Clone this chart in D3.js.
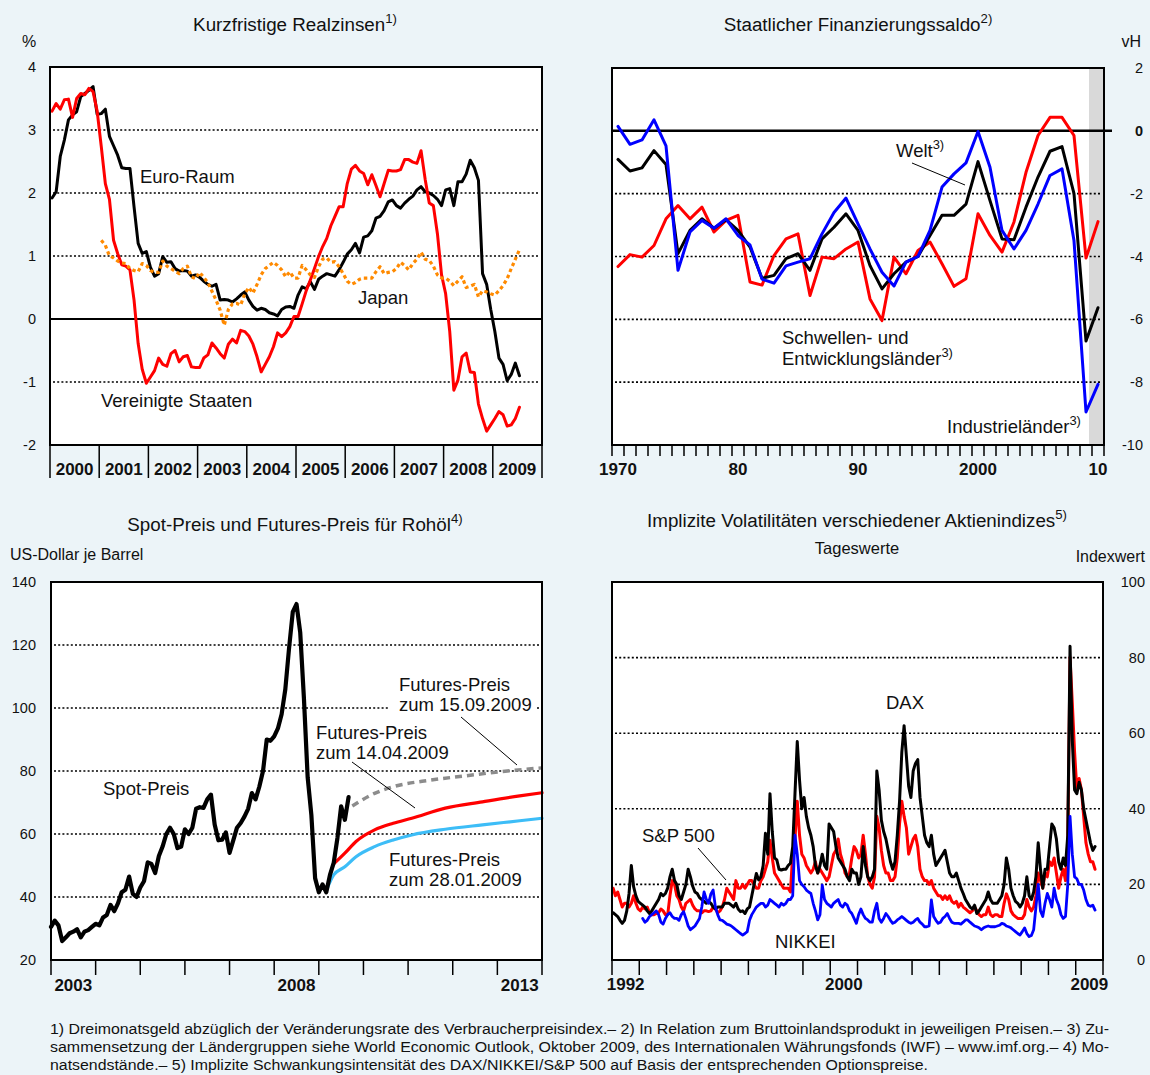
<!DOCTYPE html>
<html><head><meta charset="utf-8">
<script src="https://cdn.jsdelivr.net/npm/d3@7"></script>
<style>
body{margin:0;background:#ECF4F8;}
svg{display:block;font-family:"Liberation Sans",Arial,Helvetica,sans-serif;}
</style></head><body>
<svg id="c" width="1150" height="1075"></svg>
<script>
// ---------- Panel 1: Kurzfristige Realzinsen (monthly from Jan 2000) ----------
const p1Years = ["2000","2001","2002","2003","2004","2005","2006","2007","2008","2009"];
const p1Ticks = [4,3,2,1,0,-1,-2];
const euroRaum = [
 1.92,2.02,2.58,2.84,3.16,3.24,3.29,3.53,3.58,3.63,3.69,3.25,
 3.26,3.33,2.9,2.75,2.6,2.4,2.39,2.39,1.78,1.2,1.04,1.07,
 0.82,0.68,0.72,0.99,0.9,0.91,0.8,0.76,0.77,0.76,0.68,0.7,
 0.66,0.6,0.55,0.52,0.55,0.3,0.31,0.3,0.27,0.32,0.38,0.43,
 0.3,0.2,0.14,0.17,0.15,0.1,0.08,0.05,0.15,0.19,0.2,0.17,
 0.38,0.51,0.48,0.59,0.47,0.63,0.68,0.72,0.7,0.68,0.78,0.9,
 1.03,1.1,1.2,1.05,1.3,1.32,1.4,1.6,1.63,1.72,1.86,1.89,
 1.8,1.76,1.84,1.9,1.95,2.05,2.1,2.02,2.0,1.96,1.9,1.8,
 2.05,2.07,1.8,2.18,2.18,2.3,2.52,2.4,2.2,0.72,0.55,0.15,
 -0.2,-0.62,-0.72,-0.98,-0.88,-0.7,-0.9];
const vereinigteStaaten = [
 3.3,3.42,3.33,3.48,3.49,3.2,3.5,3.58,3.56,3.66,3.61,3.3,
 2.74,2.15,1.9,1.25,1.04,0.86,0.84,0.78,0.3,-0.39,-0.8,-1.02,
 -0.92,-0.82,-0.62,-0.72,-0.75,-0.55,-0.5,-0.68,-0.6,-0.58,-0.76,-0.77,
 -0.77,-0.62,-0.57,-0.38,-0.46,-0.55,-0.62,-0.4,-0.32,-0.38,-0.18,-0.2,
 -0.27,-0.4,-0.6,-0.84,-0.72,-0.6,-0.44,-0.22,-0.28,-0.22,-0.12,0.04,
 0.04,0.24,0.45,0.62,0.8,0.99,1.15,1.28,1.48,1.63,1.78,1.78,
 2.15,2.38,2.44,2.35,2.31,2.13,2.29,2.12,1.94,2.15,2.36,2.35,
 2.35,2.37,2.53,2.53,2.49,2.47,2.67,2.22,1.84,1.8,1.35,0.7,
 0.4,-0.2,-1.13,-0.97,-0.6,-0.54,-0.84,-0.85,-1.35,-1.58,-1.78,-1.68,
 -1.58,-1.47,-1.52,-1.7,-1.68,-1.58,-1.4];
const japanStartMonth = 12;
const japan = [
 1.25,1.17,1.0,0.97,0.92,0.89,0.88,0.8,0.77,0.75,0.88,0.85,
 0.77,0.74,0.74,0.92,0.84,0.8,0.76,0.72,0.8,0.84,0.67,0.64,
 0.74,0.66,0.58,0.44,0.3,0.14,-0.1,0.15,0.24,0.25,0.22,0.4,
 0.5,0.41,0.55,0.7,0.8,0.85,0.9,0.85,0.78,0.67,0.75,0.65,
 0.65,0.85,0.78,0.7,0.66,0.83,0.95,0.97,0.9,0.91,0.83,0.72,
 0.6,0.55,0.58,0.63,0.65,0.65,0.65,0.75,0.83,0.72,0.74,0.75,
 0.8,0.9,0.85,0.78,0.88,0.95,1.06,0.95,0.93,0.84,0.7,0.65,
 0.65,0.6,0.53,0.6,0.67,0.5,0.52,0.55,0.35,0.45,0.43,0.4,
 0.38,0.45,0.53,0.64,0.8,0.95,1.1];

// ---------- Panel 2: Staatlicher Finanzierungssaldo (annual 1970-2010) ----------
const p2Years = d3.range(1970, 2011);
const p2Labels = [[1970,"1970"],[1980,"80"],[1990,"90"],[2000,"2000"],[2010,"10"]];
const p2Ticks = [2,0,-2,-4,-6,-8,-10];
const industrielaender = [0.14,-0.43,-0.29,0.35,-0.48,-4.44,-3.22,-2.85,-3.1,-2.8,
 -3.33,-3.63,-4.72,-4.85,-4.3,-4.18,-4.07,-3.28,-2.6,-2.14,
 -2.96,-3.76,-4.5,-4.94,-4.18,-4.0,-3.17,-1.79,-1.37,-1.02,
 -0.02,-1.16,-3.17,-3.76,-3.17,-2.33,-1.42,-1.21,-3.5,-8.95,-8.07];
const welt = [-0.91,-1.28,-1.18,-0.63,-1.07,-3.91,-3.17,-2.8,-3.1,-2.83,
 -3.17,-3.7,-4.69,-4.6,-4.07,-3.91,-4.44,-3.44,-3.07,-2.64,
 -3.17,-4.29,-5.03,-4.55,-4.18,-4.0,-3.33,-2.69,-2.69,-2.33,
 -0.98,-2.22,-3.44,-3.47,-2.43,-1.47,-0.65,-0.5,-2.0,-6.69,-5.63];
const schwellenlaender = [-4.32,-3.94,-4.02,-3.65,-2.8,-2.38,-2.8,-2.43,-3.22,-2.85,
 -2.69,-4.81,-4.91,-3.97,-3.44,-3.28,-5.24,-4.02,-4.07,-3.76,
 -3.54,-5.35,-6.04,-4.02,-4.55,-3.81,-3.54,-4.23,-4.95,-4.71,
 -2.64,-3.33,-3.86,-2.9,-1.32,-0.15,0.43,0.43,-0.15,-4.05,-2.89];

// ---------- Panel 3: Spot- und Futures-Preis Rohöl (months since Jan 2003) ----------
const p3Labels = [[2003,"2003"],[2008,"2008"],[2013,"2013"]];
const p3Ticks = [140,120,100,80,60,40,20];
const spotPreis = [
 30.5,32.5,31,26,27.2,28.5,29,29.8,27.2,29,29.5,30.5,
 31.5,31,33.5,34.3,37.5,35.5,38,41.5,42.3,46.5,41,40,
 43,45,51,50.5,47.6,53,56,60,62,60,55.5,56,
 61.5,60,62,68,68.5,68.3,71,72.5,63,58,58.2,60.5,
 54,58,62,63.5,65.5,68,73,71,75,80,90,89.6,
 91,93.5,98,106,119,130.5,133,124,103,78,66,46,
 41.5,44,41.5,47,50.8,58.7,68.8,64.5,71.7];
const futJanMonths = [74,76,79,82,87,92,97,106,116,126,132];
const futJanValues = [42,47.0,49.6,52.8,56.0,58.1,59.7,61.5,62.9,64.2,65.0];
const futAprMonths = [76,79,82,87,92,97,106,116,126,132];
const futAprValues = [50.5,53.9,57.6,61.3,63.4,65.0,68.2,70.2,72.1,73.1];
const futSepMonths = [81,87,92,102,111,121,132];
const futSepValues = [68.9,72.9,75.0,77.1,78.4,79.8,81.0];

// ---------- Panel 4: Implizite Volatilitäten (monthly from Jan 1992) ----------
const p4Labels = [[1992,"1992"],[2000,"2000"],[2009,"2009"]];
const p4Ticks = [100,80,60,40,20,0];
const dax = [
 12.5,12,11.5,10.5,9.7,10.5,13,17.6,25,19.4,17,15.5,
 15,14.5,14,13,12.3,13,14,15,16,17.6,17,17.6,
 19,22,24,21,20,17,16,18,20,24,22,19.5,
 18,17.6,16.5,16,15.5,15,15.5,15,14,13.5,14,14,
 14,15,15,15,14.5,14,15,13.5,12.8,13,12.3,13.5,
 14,17,20,22.9,21.2,22,25,33.5,28,44,34,27,
 26.5,24,23.8,24,24,25,25.6,30,44,57.8,47.6,40,
 43,38,35,33,30,25,23,25,28,25,24,36,
 35,34,30,27,26,25,24,22,21,24,23,23,
 20,22,30,25,22,21,22,24,50,45,37,34,
 32,29,26,24,26,33,42,55,62,54,46,43,
 50,52,53,43,38,33,31,30,33,28,25,26,
 27,28,29,26,23,22,22,23,21,19,17.6,16,
 15,14,13.5,14.5,12.3,13,14,15,16,18,16,15,
 15,15,16,17,20,27,24,19,17,15.5,15,14,
 15,17,22,17,16,18,22,31,24,19,24,24,
 30,36,35,32,26,24,27,25,33,83,58,45,
 44,47,45,40,37,34,31,29,30];
const sp500 = [
 19,17,18,16,14,15,15,14,15,17,15,13.5,
 13,14,13.5,14,12.5,12,12,12.3,12.5,13.5,13,12,
 12,17,21,20,17,16,14,13,15,15.5,16,14.5,
 13.5,13,13,12.5,13,13,12.8,13,14,13.5,12.5,13,
 14,16,19,18,17,16,21,19,19,20,19,20,
 21,21,20,19,19,21,22,24,26,31.7,27,23,
 22,21,20,19,19,19,18,28,32,42,33,28,
 27,25,24,23,24,26,23,24,23,22,21,22,
 25,28,29,32,28,26,23,22,23,27,30,29,
 27,28,33,28,22,20,19,22,38,35,29,25,
 23,23,21,21,22,27,36,42,38,35,28,30,
 32,33,30,24,22,21,21,20,21,19,18,17,
 17,16,17,16,17,15.5,15,15.5,14,15,14,13.5,
 13,12.5,13,14,13,12,11.5,12,12,14,12,11.5,
 12,12,11.5,11.5,15,17.5,16,13,12,11.5,11,11,
 11,12,16,14,13,14,17,23,21,19,23,22,
 26,25,27,23,19,22,24,21,31,80,68,55,
 45,48,45,38,31,28,26,26,24];
const nikkeiStartMonth = 13;
const nikkei = [
 11,10,10.5,11.5,12,12.5,13,12,10,9.5,11,
 12,12.5,11.5,11,11,10.5,12,12.8,11,9,8,8.5,
 9,10,11,14,18,16,15,17.5,18.5,14,12,10.6,
 10.5,10,9.5,9.3,9,8.5,8,7.5,7,6.6,7,7.5,
 10.5,12,13,14,14.5,15,15,14,14.5,16,15.5,15,
 14.5,14,15,14.5,15,16,16,17,33,28,21,20,
 19.4,18.5,18,17.6,15,13,10.6,12,19.8,16,15,14.5,
 14,15,15.5,16,14.5,14,15,14.5,13,12.3,11,9.7,
 12,13.5,12,11,10.6,10,10,13,15,11,10,11,
 12.3,11.5,10.5,9.7,10,10.6,11,11.5,11,10.5,10,9.7,
 10,10.6,11,10,9.5,8.8,8.8,9,15.9,11.5,10.5,9.7,
 10,11,11.5,12.3,11,10,9.7,9.7,9.7,9.5,10,10.6,
 10.6,10,9.5,9,8.8,8.5,8,8.5,8.8,9,8.8,8.8,
 8.8,9,9.2,9.7,9.5,9,8.8,8.5,8,7.5,7,6.6,
 7.5,8.5,7,6.2,6.5,8,14,20,13,11.5,15,17.6,
 16,14,19,16,14.5,12,11,11.5,20,38,28,22,
 21.5,20,20,18.5,16,14.5,14.2,14.5,13.2];

const footnotes = [
 "1) Dreimonatsgeld abzüglich der Veränderungsrate des Verbraucherpreisindex.– 2) In Relation zum Bruttoinlandsprodukt in jeweiligen Preisen.– 3) Zu-",
 "sammensetzung der Ländergruppen siehe World Economic Outlook, Oktober 2009, des Internationalen Währungsfonds (IWF) – www.imf.org.–  4) Mo-",
 "natsendstände.– 5) Implizite Schwankungsintensität des DAX/NIKKEI/S&P 500 auf Basis der entsprechenden Optionspreise."];

// ================= drawing =================
const svg = d3.select("#c");
svg.append("rect").attr("width",1150).attr("height",1075).attr("fill","#ECF4F8");

const TXT = 18.5, TITLE = 18.8, TICK = 14.5, UNIT = 16, YEAR = 17;

function txt(x, y, s, o = {}) {
  const size = o.size || TXT;
  const t = svg.append("text").attr("x", x).attr("y", y)
    .attr("font-size", size).attr("text-anchor", o.anchor || "start")
    .attr("font-weight", o.bold ? "bold" : "normal").attr("fill", "#111");
  t.append("tspan").text(s);
  if (o.sup) {
    t.append("tspan").attr("font-size", size * 0.7).attr("dy", -size * 0.45).text(o.sup);
  }
  return t;
}
function leader(x1, y1, x2, y2) {
  svg.append("line").attr("x1",x1).attr("y1",y1).attr("x2",x2).attr("y2",y2)
    .attr("stroke","#000").attr("stroke-width",1);
}
function plotBox(x, y) {
  return svg.append("rect").attr("x", x.range()[0]).attr("y", y.range()[1])
    .attr("width", x.range()[1] - x.range()[0]).attr("height", y.range()[0] - y.range()[1])
    .attr("fill", "#fff");
}
function frame(x, y) {
  svg.append("rect").attr("x", x.range()[0]).attr("y", y.range()[1])
    .attr("width", x.range()[1] - x.range()[0]).attr("height", y.range()[0] - y.range()[1])
    .attr("fill", "none").attr("stroke", "#000").attr("stroke-width", 2);
}
function grid(x, y, vals) {
  svg.append("g").selectAll("line").data(vals).join("line")
    .attr("x1", x.range()[0] + 3).attr("x2", x.range()[1] - 3)
    .attr("y1", d => y(d)).attr("y2", d => y(d))
    .attr("stroke", "#000").attr("stroke-width", 1.6).attr("stroke-dasharray", "2,2.2");
}
function drawLine(data, xf, yf, color, width, dash, curve) {
  const gen = d3.line().x(d => xf(d.t)).y(d => yf(d.v));
  if (curve) gen.curve(curve);
  const p = svg.append("path").datum(data).attr("d", gen).attr("fill", "none")
    .attr("stroke", color).attr("stroke-width", width)
    .attr("stroke-linejoin", "round").attr("stroke-linecap", dash ? "butt" : "round");
  if (dash) p.attr("stroke-dasharray", dash);
}

// ---------- Panel 1 ----------
{
  const x = d3.scaleLinear().domain([2000, 2010]).range([50, 542]);
  const y = d3.scaleLinear().domain([-2, 4]).range([445, 67]);
  plotBox(x, y);
  grid(x, y, [3, 2, 1, -1]);
  svg.append("line").attr("x1", 50).attr("x2", 542).attr("y1", y(0)).attr("y2", y(0))
    .attr("stroke", "#000").attr("stroke-width", 2);
  const toT = (arr, s) => arr.map((v, i) => ({ t: 2000 + (s + i + 0.5) / 12, v }));
  drawLine(toT(euroRaum, 0), x, y, "#000", 3);
  drawLine(toT(vereinigteStaaten, 0), x, y, "#FF0000", 3);
  drawLine(toT(japan, japanStartMonth), x, y, "#FF8A00", 3.2, "3.5,3");
  frame(x, y);
  svg.append("g").selectAll("line").data(d3.range(2000, 2011)).join("line")
    .attr("x1", d => x(d)).attr("x2", d => x(d)).attr("y1", 446).attr("y2", 478)
    .attr("stroke", "#000").attr("stroke-width", 1.5);
  p1Years.forEach((s, i) => txt(x(2000 + i + 0.5), 475, s, { anchor: "middle", bold: true, size: YEAR }));
  p1Ticks.forEach(v => txt(36, y(v) + 5, String(v), { anchor: "end", size: TICK }));
  txt(22, 47, "%", { size: UNIT });
  txt(295, 31, "Kurzfristige Realzinsen", { anchor: "middle", sup: "1)", size: TITLE });
  txt(140, 183, "Euro-Raum");
  txt(358, 304, "Japan");
  txt(101, 407, "Vereinigte Staaten");
}

// ---------- Panel 2 ----------
{
  const x = d3.scaleLinear().domain([1970, 2011]).range([612, 1104]);
  const y = d3.scaleLinear().domain([-10, 2]).range([445, 68]);
  plotBox(x, y);
  svg.append("rect").attr("x", x(2009.75)).attr("y", 68).attr("width", 1104 - x(2009.75))
    .attr("height", 445 - 68).attr("fill", "#D9D9D9");
  grid(x, y, [-2, -4, -6, -8]);
  svg.append("line").attr("x1", 612).attr("x2", 1112).attr("y1", y(0)).attr("y2", y(0))
    .attr("stroke", "#000").attr("stroke-width", 2.5);
  const toT = arr => arr.map((v, i) => ({ t: p2Years[i] + 0.5, v }));
  drawLine(toT(schwellenlaender), x, y, "#FF0000", 3);
  drawLine(toT(welt), x, y, "#000", 3);
  drawLine(toT(industrielaender), x, y, "#0000FF", 3);
  frame(x, y);
  svg.append("g").selectAll("line").data(d3.range(1970, 2012)).join("line")
    .attr("x1", d => x(d)).attr("x2", d => x(d)).attr("y1", 445).attr("y2", 456)
    .attr("stroke", "#000").attr("stroke-width", 1.5);
  p2Labels.forEach(([yr, s]) => txt(x(yr + 0.5), 475, s, { anchor: "middle", bold: true, size: YEAR }));
  p2Ticks.forEach(v => txt(1143, y(v) + 5, String(v), { anchor: "end", size: TICK, bold: v === 0 }));
  txt(1141, 47, "vH", { size: UNIT, anchor: "end" });
  txt(858, 31, "Staatlicher Finanzierungssaldo", { anchor: "middle", sup: "2)", size: TITLE });
  txt(896, 157, "Welt", { sup: "3)" });
  leader(912, 163, 965, 185);
  txt(782, 344, "Schwellen- und");
  txt(782, 365, "Entwicklungsländer", { sup: "3)" });
  txt(947, 433, "Industrieländer", { sup: "3)" });
}

// ---------- Panel 3 ----------
{
  const x = d3.scaleLinear().domain([2003, 2014]).range([51, 542]);
  const y = d3.scaleLinear().domain([20, 140]).range([960, 582]);
  plotBox(x, y);
  grid(x, y, [120, 100, 80, 60, 40]);
  const mt = m => 2003 + m / 12;
  const pairs = (ms, vs) => ms.map((m, i) => ({ t: mt(m), v: vs[i] }));
  svg.append("rect").attr("x", 389).attr("y", 697).attr("width", 147).attr("height", 18).attr("fill", "#fff");
  drawLine(pairs(futSepMonths, futSepValues), x, y, "#8C8C8C", 3.5, "7,5", d3.curveMonotoneX);
  drawLine(pairs(futAprMonths, futAprValues), x, y, "#FF0000", 3.2, null, d3.curveMonotoneX);
  drawLine(pairs(futJanMonths, futJanValues), x, y, "#3DBDF7", 3.2, null, d3.curveMonotoneX);
  drawLine(spotPreis.map((v, i) => ({ t: mt(i), v })), x, y, "#000", 4.2);
  frame(x, y);
  svg.append("g").selectAll("line").data(d3.range(2003, 2015)).join("line")
    .attr("x1", d => x(d)).attr("x2", d => x(d)).attr("y1", 960).attr("y2", 975)
    .attr("stroke", "#000").attr("stroke-width", 1.5);
  p3Labels.forEach(([yr, s]) => txt(x(yr + 0.5), 991, s, { anchor: "middle", bold: true, size: YEAR }));
  p3Ticks.forEach(v => txt(36, y(v) + 5, String(v), { anchor: "end", size: TICK }));
  txt(10, 560, "US-Dollar je Barrel", { size: UNIT });
  txt(295, 531, "Spot-Preis und Futures-Preis für Rohöl", { anchor: "middle", sup: "4)", size: TITLE });
  txt(103, 795, "Spot-Preis");
  txt(399, 691, "Futures-Preis");
  txt(399, 711, "zum 15.09.2009");
  leader(461, 717, 517, 765);
  txt(316, 739, "Futures-Preis");
  txt(316, 759, "zum 14.04.2009");
  leader(352, 762, 415, 808);
  txt(389, 866, "Futures-Preis");
  txt(389, 886, "zum 28.01.2009");
}

// ---------- Panel 4 ----------
{
  const x = d3.scaleLinear().domain([1992, 2010]).range([612, 1103]);
  const y = d3.scaleLinear().domain([0, 100]).range([960, 582]);
  plotBox(x, y);
  grid(x, y, [80, 60, 40, 20]);
  const toT = (arr, s) => arr.map((v, i) => ({ t: 1992 + (s + i + 0.5) / 12, v }));
  drawLine(toT(sp500, 0), x, y, "#FF0000", 3);
  drawLine(toT(dax, 0), x, y, "#000", 3);
  drawLine(toT(nikkei, nikkeiStartMonth), x, y, "#0000FF", 2.8);
  frame(x, y);
  svg.append("g").selectAll("line").data(d3.range(1992, 2011)).join("line")
    .attr("x1", d => x(d)).attr("x2", d => x(d)).attr("y1", 960).attr("y2", 975)
    .attr("stroke", "#000").attr("stroke-width", 1.5);
  p4Labels.forEach(([yr, s]) => txt(x(yr + 0.5), 990, s, { anchor: "middle", bold: true, size: YEAR }));
  p4Ticks.forEach(v => txt(1145, y(v) + 5, String(v), { anchor: "end", size: TICK }));
  txt(857, 527, "Implizite Volatilitäten verschiedener Aktienindizes", { anchor: "middle", sup: "5)", size: TITLE });
  txt(857, 554, "Tageswerte", { anchor: "middle", size: 16.5 });
  txt(1145, 562, "Indexwert", { anchor: "end", size: UNIT });
  txt(886, 709, "DAX");
  txt(642, 842, "S&P 500");
  leader(698, 848, 726, 880);
  txt(775, 948, "NIKKEI");
}

// ---------- Footnotes ----------
const fnLen = [1059, 1059, 878];
footnotes.forEach((s, i) => {
  svg.append("text").attr("x", 50).attr("y", 1034 + i * 18)
    .attr("font-family", '"Liberation Sans Narrow","Arial Narrow","Liberation Sans",sans-serif')
    .attr("font-size", 14).attr("fill", "#111")
    .attr("textLength", fnLen[i]).attr("lengthAdjust", "spacingAndGlyphs").text(s);
});
</script></body></html>
